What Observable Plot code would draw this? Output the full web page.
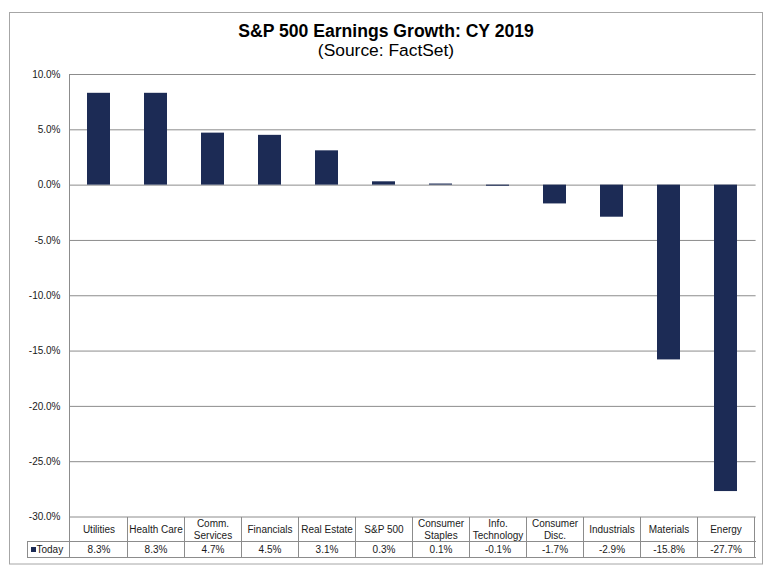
<!DOCTYPE html>
<html><head><meta charset="utf-8">
<script src="https://cdn.jsdelivr.net/npm/d3@7"></script>
<script src="https://cdn.jsdelivr.net/npm/@observablehq/plot@0.6"></script>
<style>body{margin:0;background:#fff}</style>
</head><body><div id="chart"></div>
<script>
const categories = ["Utilities","Health Care","Comm.\nServices","Financials","Real Estate","S&P 500","Consumer\nStaples","Info.\nTechnology","Consumer\nDisc.","Industrials","Materials","Energy"];
const values = [8.3, 8.3, 4.7, 4.5, 3.1, 0.3, 0.1, -0.1, -1.7, -2.9, -15.8, -27.7];
const yTicks = [10, 5, 0, -5, -10, -15, -20, -25, -30];
const seriesName = "Today";
const title = "S&P 500 Earnings Growth: CY 2019";
const subtitle = "(Source: FactSet)";

const data = categories.map((c, i) => ({category: c, value: values[i]}));
const fmt = v => v.toFixed(1) + "%";
const FONT = "'Liberation Sans', Arial, sans-serif";
const navy = "#1c2b55";
const lineGray = "#8c8c8c";
const textColor = "#1a1a1a";
const row1 = 24.5, row2 = 16, headerLeft = 27;

function background(index, scales, vals, dims) {
  const g = d3.create("svg:g");
  g.append("rect").attr("x", 9.5).attr("y", 12.5)
    .attr("width", dims.width - 19).attr("height", dims.height - 24.5)
    .attr("fill", "white").attr("stroke", "#a6a6a6");
  g.append("text").attr("x", dims.width / 2).attr("y", 37)
    .attr("text-anchor", "middle").attr("font-size", 17.6).attr("font-weight", "bold")
    .attr("fill", "#000").text(title);
  g.append("text").attr("x", dims.width / 2).attr("y", 56)
    .attr("text-anchor", "middle").attr("font-size", 17.4)
    .attr("fill", "#000").text(subtitle);
  return g.node();
}

function table(index, scales, vals, dims) {
  const {x} = scales;
  const bw = x.bandwidth();
  const g = d3.create("svg:g").attr("stroke", lineGray).attr("fill", "none").attr("shape-rendering", "crispEdges");
  const top = dims.marginTop, bottom = dims.height - dims.marginBottom;
  const left = dims.marginLeft, right = dims.width - dims.marginRight;
  const r1 = bottom + row1, r2 = bottom + row1 + row2;
  g.append("line").attr("x1", left).attr("x2", left).attr("y1", top).attr("y2", r2);
  g.append("line").attr("x1", headerLeft).attr("x2", right).attr("y1", r1).attr("y2", r1);
  g.append("line").attr("x1", headerLeft).attr("x2", right).attr("y1", r2).attr("y2", r2);
  g.append("line").attr("x1", headerLeft).attr("x2", headerLeft).attr("y1", r1).attr("y2", r2);
  categories.forEach(c => {
    const xe = x(c) + bw;
    g.append("line").attr("x1", xe).attr("x2", xe).attr("y1", bottom).attr("y2", r2);
  });
  g.append("rect").attr("x", headerLeft + 3.5).attr("y", r1 + 5.5).attr("width", 5).attr("height", 5)
    .attr("fill", navy).attr("stroke", "none");
  g.append("text").attr("x", headerLeft + 9.5).attr("y", r1 + 12).attr("font-size", 10)
    .attr("text-anchor", "start")
    .attr("fill", textColor).attr("stroke", "none").text(seriesName);
  return g.node();
}

const chart = Plot.plot({
  width: 772,
  height: 576,
  marginTop: 74,
  marginBottom: 59.5,
  marginLeft: 69,
  marginRight: 16.4,
  style: {fontFamily: FONT, fontSize: "10px", color: textColor, background: "white"},
  x: {type: "band", domain: categories, padding: 0, axis: null},
  y: {domain: [-30, 10], axis: null},
  marks: [
    background,
    Plot.gridY(yTicks, {stroke: lineGray, strokeOpacity: 1}),
    Plot.axisY(yTicks, {tickSize: 0, tickPadding: 9, tickFormat: fmt, fontSize: 10, label: null, fill: textColor}),
    Plot.barY(data, {x: "category", y: "value", fill: navy, insetLeft: 17, insetRight: 17}),
    table,
    Plot.text(data, {x: "category", text: "category", frameAnchor: "bottom", dy: 12.5, lineAnchor: "middle", lineHeight: 1.2, fontSize: 10, fill: textColor}),
    Plot.text(data, {x: "category", text: d => fmt(d.value), frameAnchor: "bottom", dy: 32.5, lineAnchor: "middle", fontSize: 10, fill: textColor})
  ]
});
document.getElementById("chart").appendChild(chart);
</script>
</body></html>
